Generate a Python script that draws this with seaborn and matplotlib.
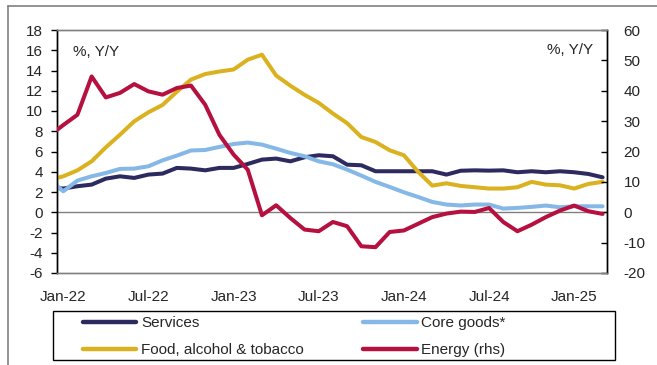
import numpy as np
import pandas as pd
import matplotlib
matplotlib.use("Agg")
import matplotlib.pyplot as plt
import seaborn as sns
from matplotlib.lines import Line2D
from matplotlib.patches import Rectangle

# ---- data (Dec-21 .. Mar-25), % Y/Y ----
months = [p.strftime("%b-%y") for p in pd.period_range("2021-12", "2025-03", freq="M")]
services = [2.48, 2.34, 2.57, 2.73, 3.32, 3.55, 3.39, 3.72, 3.82, 4.38, 4.31,
            4.14, 4.38, 4.38, 4.77, 5.20, 5.30, 5.03, 5.43, 5.63, 5.53,
            4.70, 4.64, 4.05, 4.05, 4.05, 4.05, 4.05, 3.72, 4.10, 4.14,
            4.11, 4.14, 3.95, 4.05, 3.95, 4.05, 3.95, 3.78, 3.45]
core_goods = [3.30, 2.07, 3.13, 3.55, 3.88, 4.28, 4.31, 4.54, 5.13, 5.59, 6.10,
              6.15, 6.45, 6.74, 6.88, 6.68, 6.28, 5.86, 5.53, 5.03, 4.74,
              4.21, 3.62, 3.00, 2.50, 1.97, 1.51, 1.02, 0.76, 0.67, 0.76,
              0.76, 0.36, 0.43, 0.53, 0.66, 0.49, 0.59, 0.59, 0.59]
food = [3.17, 3.55, 4.14, 5.03, 6.41, 7.66, 8.98, 9.87, 10.6, 11.9, 13.1,
        13.65, 13.9, 14.1, 15.07, 15.56, 13.5, 12.5, 11.6, 10.8, 9.75,
        8.8, 7.43, 6.94, 6.12, 5.63, 4.0, 2.63, 2.86, 2.6, 2.47,
        2.34, 2.34, 2.47, 3.0, 2.73, 2.66, 2.34, 2.8, 3.0]
energy = [25.1, 28.7, 32.1, 44.7, 37.8, 39.3, 42.2, 39.8, 38.7, 40.9, 41.7,
          35.4, 25.5, 19.0, 14.0, -1.0, 2.3, -1.9, -5.7, -6.25, -3.2,
          -4.6, -11.2, -11.5, -6.5, -6.0, -3.8, -1.6, -0.44, 0.2, 0.1,
          1.4, -3.2, -6.25, -4.1, -1.6, 0.55, 2.2, 0.33, -0.55]
tick_labels = ["Jan-22", "Jul-22", "Jan-23", "Jul-23", "Jan-24", "Jul-24", "Jan-25"]
left_ticks = list(range(-6, 19, 2))
right_ticks = list(range(-20, 61, 10))

names = ["Services", "Core goods*", "Food, alcohol & tobacco", "Energy (rhs)"]
colors = ["#2D2A5F", "#85B8E6", "#DAB21F", "#B5103F"]

df = pd.DataFrame({"month": months, "idx": np.arange(len(months)) - 1,
                   "services": services, "core": core_goods,
                   "food": food, "energy": energy})

sns.set_style("white")
plt.rcParams["font.family"] = ["Liberation Sans", "DejaVu Sans"]
plt.rcParams["font.size"] = 11

W, H = 657, 365
fig = plt.figure(figsize=(W / 100, H / 100), dpi=100)
ax = fig.add_axes([57 / W, 1 - 273 / H, (607 - 57) / W, (273 - 30) / H])
ax2 = ax.twinx()

lw = 2.9
sns.lineplot(data=df, x="idx", y="services", ax=ax, color=colors[0], linewidth=lw, zorder=3)
sns.lineplot(data=df, x="idx", y="core", ax=ax, color=colors[1], linewidth=lw, zorder=3)
sns.lineplot(data=df, x="idx", y="food", ax=ax, color=colors[2], linewidth=lw, zorder=4)
sns.lineplot(data=df, x="idx", y="energy", ax=ax2, color=colors[3], linewidth=lw, zorder=5)

ax.axhline(0, color="#808080", linewidth=1.0, zorder=2)

ax.set_xlim(-0.44, 38.31)
ax.set_ylim(-6, 18)
ax2.set_ylim(-20, 60)
ax.set_xticks(list(range(0, 37, 6)))
ax.set_xticklabels(tick_labels)
ax.set_yticks(left_ticks)
ax.set_yticklabels([str(t) for t in left_ticks])
ax2.set_yticks(right_ticks)
ax2.set_yticklabels([str(t) for t in right_ticks])
ax.set_xlabel("")
ax.set_ylabel("")
ax2.set_ylabel("")

for a in (ax, ax2):
    for s in ("top", "bottom"):
        a.spines[s].set_color("#808080")
        a.spines[s].set_linewidth(1.0)
    a.spines["left"].set_color("black")
    a.spines["right"].set_color("black")
    a.spines["left"].set_linewidth(1.0)
    a.spines["right"].set_linewidth(1.0)

ax.tick_params(axis="y", direction="out", length=4, width=1, color="black",
               labelsize=11, pad=6, left=True)
ax.tick_params(axis="x", length=0, labelsize=11, pad=12)
ax2.tick_params(axis="y", direction="in", length=4, width=1, color="black",
                labelsize=11, pad=12, right=True)

ax.text(16 / 550, 1 - 22 / 243, "%, Y/Y", transform=ax.transAxes,
        fontsize=11, ha="left", va="center")
ax.text(1 - 14 / 550, 1 - 20 / 243, "%, Y/Y", transform=ax.transAxes,
        fontsize=11, ha="right", va="center")

# outer frame lines
fig.add_artist(Line2D([8 / W, 8 / W], [0, 1 - 6 / H], color="#808080", linewidth=1.2))
fig.add_artist(Line2D([8 / W, 1], [1 - 6 / H, 1 - 6 / H], color="#808080", linewidth=1.2))

# legend box
fig.add_artist(Rectangle((53 / W, 1 - 360 / H), (615 - 53) / W, (360 - 311) / H,
                         transform=fig.transFigure, fill=False,
                         edgecolor="black", linewidth=1.0))
handles = [Line2D([], [], color=c, linewidth=3.2) for c in colors]
order = [0, 2, 1, 3]
leg = fig.legend([handles[i] for i in order], [names[i] for i in order],
                 ncol=2, loc="upper left",
                 bbox_to_anchor=(83 / W, 1 - 316 / H),
                 frameon=False, borderpad=0, borderaxespad=0,
                 handlelength=3.5, handletextpad=0.3, columnspacing=3.9,
                 labelspacing=0.85, fontsize=11)

fig.savefig("out.png", dpi=100)
